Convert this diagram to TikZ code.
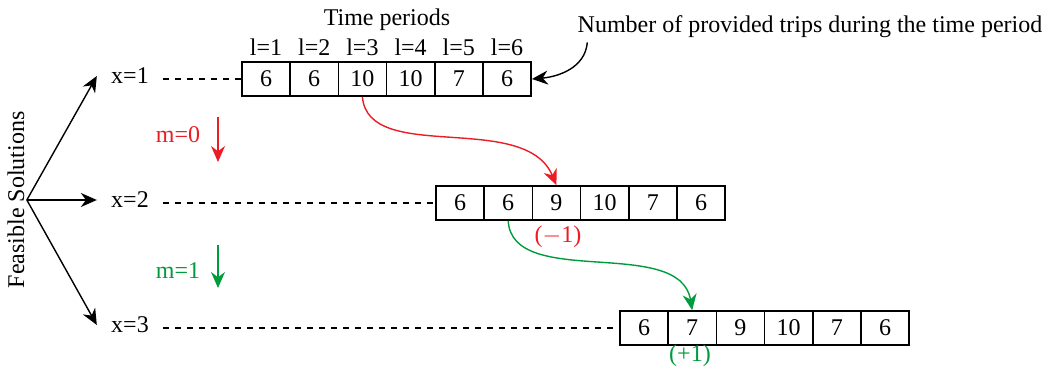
\documentclass[tikz,border=0pt]{standalone}
\usepackage{fontspec}
\setmainfont{Liberation Serif}
\usepackage{tikz}
\usetikzlibrary{positioning}
\usetikzlibrary{%
  calc,%
  arrows.meta%
}
\definecolor{redm}{RGB}{235,28,36}
\definecolor{greenm}{RGB}{0,155,60}
\tikzset{
  cell/.style={draw, thick, rectangle, minimum width=24.1pt, minimum height=17pt, inner sep=0pt, font=\fontsize{12}{13}\selectfont},
  lab/.style={font=\fontsize{12}{13}\selectfont, inner sep=1pt},
  tip/.style={-{Stealth[length=8pt,width=7pt]}, line width=0.7pt}
}
\begin{document}
\begin{tikzpicture}[x=0.5pt,y=-0.5pt]
\useasboundingbox (0,0) rectangle (1051,369);

\node[lab] (tp) at (387,20) {Time periods};
\node[lab] (num) at (810,27) {Number of provided trips during the time period};

% the three rows
\foreach \v [count=\i] in {6,6,10,10,7,6}{
  \node[cell] (a\i) at (266+48.2*\i-48.2,79) {\v};
  \node[lab] (l\i) at (266+48.2*\i-48.2,47) {l=\i};
}
\foreach \v [count=\i] in {6,6,9,10,7,6}{
  \node[cell] (b\i) at (460+48.2*\i-48.2,203) {\v};
}
\foreach \v [count=\i] in {6,7,9,10,7,6}{
  \node[cell] (c\i) at (644+48.2*\i-48.2,328) {\v};
}

\node[lab] (x1) at (130,76) {x=1};
\node[lab] (x2) at (130,200) {x=2};
\node[lab] (x3) at (130,325) {x=3};

\node[lab, rotate=90] (fs) at (16,200) {Feasible Solutions};

\path[tip] (fs.south) edge ([xshift=-6pt]x1.west)
           (fs.south) edge ([xshift=-6pt]x2.west)
           (fs.south) edge ([xshift=-6pt]x3.west);

\draw[dashed, semithick] ([xshift=6pt]x1.east |- a1.west) -- (a1.west);
\draw[dashed, semithick] ([xshift=6pt]x2.east |- b1.west) -- (b1.west);
\draw[dashed, semithick] ([xshift=6pt]x3.east |- c1.west) -- (c1.west);

% moves
\node[lab, text=redm] (m0) at (178,135) {m=0};
\coordinate (m0t) at (218,117);
\coordinate (m0b) at (218,162);
\draw[tip, redm] (m0t) -- (m0b);
\node[lab, text=greenm] (m1) at (178,271) {m=1};
\coordinate (m1t) at (218,245);
\coordinate (m1b) at (218,288);
\draw[tip, greenm] (m1t) -- (m1b);

\draw[tip, redm] (a3.south) .. controls (368,165) and (525,110) .. (b3.north);
\node[lab, text=redm] (d1) at (558,237) {($-$1)};
\draw[tip, greenm] (b2.south) .. controls (512,290) and (680,235) .. (c2.north);
\node[lab, text=greenm] (d2) at (690,356) {(+1)};

\draw[tip] ([xshift=6pt,yshift=-1pt]num.south west) to[out=-95,in=5] (a6.east);
\end{tikzpicture}
\end{document}
